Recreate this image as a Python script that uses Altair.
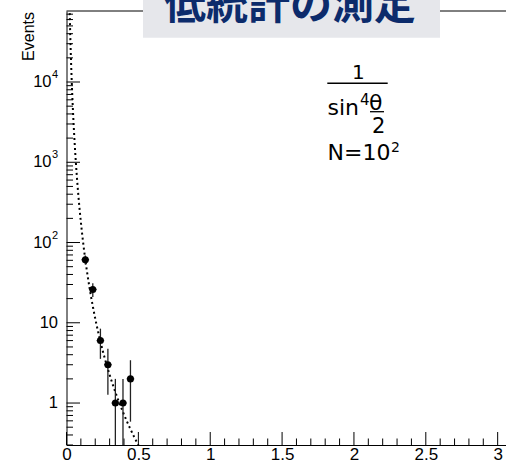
import math

import altair as alt
import numpy as np
import pandas as pd

# Scattering-angle histogram (60 bins over 0..pi, only filled bins listed)
bin_centers = [0.131, 0.183, 0.236, 0.288, 0.340, 0.393, 0.445]
counts = [61, 26, 6, 3, 1, 1, 2]
bin_half_width = math.pi / 120

# Normalisation of the Rutherford curve  A / sin^4(theta/2)
curve_norm = 0.00112

# Axis ranges
x_domain = [0.0, 3.058]
y_domain = [0.3, 7.67e4]

# Label tables
x_label_values = [0, 0.5, 1, 1.5, 2, 2.5, 3]
y_label_values = [1, 10, 100, 1000, 10000]
y_label_base = ["1", "10", "10", "10", "10"]
y_label_sup = ["", "", "2", "3", "4"]

W, H = 439.5, 434
FONT = "Liberation Sans"

# ---------------------------------------------------------------- tables
err = [math.sqrt(n) for n in counts]
hist = pd.DataFrame({
    "theta": bin_centers,
    "events": counts,
    "lo": [max(n - e, y_domain[0]) for n, e in zip(counts, err)],
    "hi": [n + e for n, e in zip(counts, err)],
    "x0": [c - bin_half_width for c in bin_centers],
    "x1": [c + bin_half_width for c in bin_centers],
})

theta_grid = np.arange(0.018, 0.62, 0.002)
curve = pd.DataFrame({
    "theta": theta_grid,
    "events": curve_norm / np.sin(theta_grid / 2) ** 4,
})

# tick positions (ROOT style: drawn inside the frame)
y_major = list(y_label_values)
y_minor = [k * 10.0 ** p for p in range(-1, 5) for k in range(2, 10)
           if y_domain[0] <= k * 10.0 ** p <= y_domain[1]]
x_major = list(x_label_values)
x_minor = [round(0.1 * i, 1) for i in range(0, 31) if (i % 5) != 0]

xs = alt.Scale(domain=x_domain, nice=False, zero=False)
ys = alt.Scale(type="log", domain=y_domain, nice=False)

x_axis = alt.Axis(
    values=x_label_values, labelExpr="datum.value + ''", ticks=False,
    tickSize=0, grid=False, title=None, domainColor="black", domainWidth=1,
    labelFont=FONT, labelFontSize=17, labelColor="black", labelPadding=1,
    labelFlush=False, labelOverlap=False, labelBound=False,
)
y_axis = alt.Axis(
    labels=False, ticks=False, tickSize=0, grid=False, title="Events",
    domainColor="black", domainWidth=1, titleFont=FONT, titleFontSize=16,
    titleFontWeight="normal", titleColor="black", titleAngle=270,
    titleAlign="right", titleBaseline="alphabetic", titleX=-33.2, titleY=0.5,
)


def X(field):
    return alt.X(field, scale=xs, axis=x_axis)


def Y(field):
    return alt.Y(field, scale=ys, axis=y_axis)


one = alt.Data(values=[{"k": 0}])

# frame top edge
top_line = alt.Chart(one).mark_rule(color="black", strokeWidth=1).encode(
    x=alt.value(0), x2=alt.value(W), y=alt.value(0)
)

# theoretical curve
curve_layer = alt.Chart(curve).mark_line(
    color="black", strokeWidth=2, strokeDash=[2, 3], clip=True
).encode(x=X("theta:Q"), y=Y("events:Q"))

# error bars
vbars = alt.Chart(hist).mark_rule(color="#222222", strokeWidth=1.3).encode(
    x=X("theta:Q"), y=Y("lo:Q"), y2="hi:Q",
)
hbars = alt.Chart(hist).mark_rule(color="#222222", strokeWidth=1.3).encode(
    x=X("x0:Q"), x2="x1:Q", y=Y("events:Q"),
)
points = alt.Chart(hist).mark_circle(color="black", size=50, opacity=1).encode(
    x=X("theta:Q"), y=Y("events:Q"),
)


# inner ticks
def y_ticks(vals, length):
    return alt.Chart(pd.DataFrame({"v": vals})).mark_rule(
        color="black", strokeWidth=1
    ).encode(y=Y("v:Q"), x=alt.value(0), x2=alt.value(length))


def x_ticks(vals, length):
    return alt.Chart(pd.DataFrame({"v": vals})).mark_rule(
        color="black", strokeWidth=1
    ).encode(x=X("v:Q"), y=alt.value(H), y2=alt.value(H - length))


ticks = [y_ticks(y_major, 13.5), y_ticks(y_minor, 6.5),
         x_ticks(x_major, 13), x_ticks(x_minor, 6.5)]

# y tick labels with superscript exponents
ylab = pd.DataFrame({"v": y_label_values, "base": y_label_base, "sup": y_label_sup})
ylab_plain = alt.Chart(ylab).transform_filter("datum.sup == ''").mark_text(
    font=FONT, fontSize=16.5, align="right", baseline="middle", color="black"
).encode(y=Y("v:Q"), x=alt.value(-8.5), text="base:N")
ylab_pow = alt.Chart(ylab).transform_filter("datum.sup != ''").mark_text(
    font=FONT, fontSize=16.5, align="right", baseline="middle", color="black"
).encode(y=Y("v:Q"), x=alt.value(-15), text="base:N")
ylab_exp = alt.Chart(ylab).transform_filter("datum.sup != ''").mark_text(
    font=FONT, fontSize=11, align="left", baseline="middle", color="black", dy=-7
).encode(y=Y("v:Q"), x=alt.value(-14.5), text="sup:N")


# formula annotation
def label(txt, x, y, size, align="left", font="DejaVu Sans"):
    return alt.Chart(one).mark_text(
        text=txt, font=font, fontSize=size, align=align,
        baseline="alphabetic", color="black"
    ).encode(x=alt.value(x), y=alt.value(y))


def bar(x0, x1, y, w=1.5):
    return alt.Chart(one).mark_rule(color="black", strokeWidth=w).encode(
        x=alt.value(x0), x2=alt.value(x1), y=alt.value(y)
    )


formula = [
    label("1", 291.8, 68.3, 20, align="center"),
    bar(260.8, 321.2, 72.3),
    label("sin", 261.0, 104, 22),
    label("4", 293.6, 94, 15),
    label("θ", 302.5, 99, 22),
    bar(303.5, 317.5, 100.7, 1.3),
    label("2", 305.5, 122, 21),
    label("N=10", 261.0, 149, 22),
    label("2", 324.5, 141, 14),
]

# heading box
title_box = alt.Chart(one).mark_rect(color="#e6e7eb").encode(
    x=alt.value(76.5), x2=alt.value(373.5), y=alt.value(-12), y2=alt.value(26.7)
)
title_text = alt.Chart(one).mark_text(
    text="低統計の測定", font="Noto Sans CJK JP", fontWeight="bold", fontSize=42,
    align="center", baseline="alphabetic", color="#0c2b6b"
).encode(x=alt.value(223.5), y=alt.value(8))

chart = alt.layer(
    top_line, curve_layer, *ticks, vbars, hbars, points,
    ylab_plain, ylab_pow, ylab_exp, *formula, title_box, title_text,
).properties(
    width=W, height=H,
    autosize=alt.AutoSizeParams(type="none"),
    padding={"left": 66.5, "top": 11, "right": 0, "bottom": 31},
    background="white",
).configure_view(stroke=None)

chart.save("out.html", embed_options={"renderer": "svg", "actions": False})
